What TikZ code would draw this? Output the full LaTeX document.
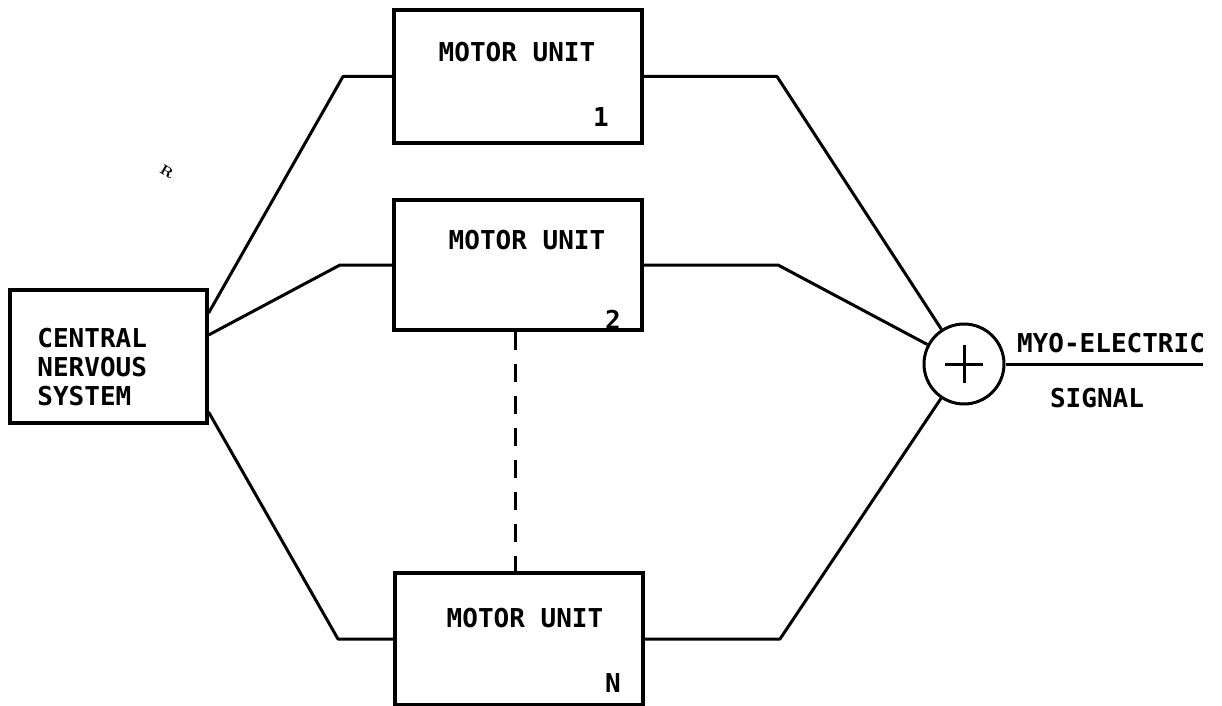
\documentclass[tikz,border=0pt]{standalone}
\usepackage{fontspec}
\newfontfamily\tw{DejaVu Sans Mono}
\usetikzlibrary{calc}
\begin{document}
\begin{tikzpicture}[x=0.5pt,y=-0.5pt,
  box/.style={draw, line width=1.6pt, minimum width=124pt, inner sep=0pt},
  lbl/.style={font=\tw\bfseries\fontsize{13}{14.5}\selectfont, inner sep=0pt},
  wire/.style={line width=1.5pt, line join=round}]
\useasboundingbox (0,0) rectangle (1222,706);
% boxes
\node[box, minimum width=98.5pt, minimum height=66.5pt] (cns) at (108.5,356.5) {};
\node[box, minimum height=66.5pt] (mu1) at (518,76.5) {};
\node[box, minimum height=65pt] (mu2) at (518,265) {};
\node[box, minimum height=66pt] (mun) at (519,639) {};
\node[draw, circle, minimum size=40pt, inner sep=0pt, line width=1.5pt] (sum) at (964,364) {};
% texts
\node[lbl, align=left, anchor=west] (cnst) at (37,367) {CENTRAL\\NERVOUS\\SYSTEM};
\node[lbl] (t1) at (517,52) {MOTOR UNIT};
\node[lbl] (t2) at (527,240) {MOTOR UNIT};
\node[lbl] (tn) at (525,618) {MOTOR UNIT};
\node[lbl] (n1) at (601,117) {1};
\node[lbl] (n2) at (613,320) {2};
\node[lbl] (nn) at (613,683) {N};
\node[lbl] (myo) at (1111,343) {MYO-ELECTRIC};
\node[lbl] (sig) at (1097,398) {SIGNAL};
\node[font=\bfseries\fontsize{7}{7}\selectfont, rotate=-30, inner sep=0pt] (speck) at (167,172) {R};
% bend points
\coordinate (a1) at (343,76.5);
\coordinate (a2) at (340,265);
\coordinate (a3) at (338,639);
\coordinate (c1) at (777,76.5);
\coordinate (c2) at (778,265);
\coordinate (c3) at (780,639);
\coordinate (out) at (1203,364);
\coordinate (dx) at (515,0);
% connectors
\draw[wire] ($(cns.east)+(0,-43.5)$) -- (a1) -- (mu1.west);
\draw[wire] ($(cns.east)+(0,-21.5)$) -- (a2) -- (mu2.west);
\draw[wire] ($(cns.east)+(0,55.5)$) -- (a3) -- (mun.west);
\draw[wire] (mu1.east) -- (c1) -- (sum);
\draw[wire] (mu2.east) -- (c2) -- (sum);
\draw[wire] (mun.east) -- (c3) -- (sum);
\draw[wire] (sum) -- (out);
\draw[wire] (sum.center) +(-19,0) -- +(19,0);
\draw[wire] (sum.center) +(0,-19) -- +(0,19);
\draw[wire, dash pattern=on 9pt off 7pt] (mu2.south -| dx) -- (mun.north -| dx);
\end{tikzpicture}
\end{document}
